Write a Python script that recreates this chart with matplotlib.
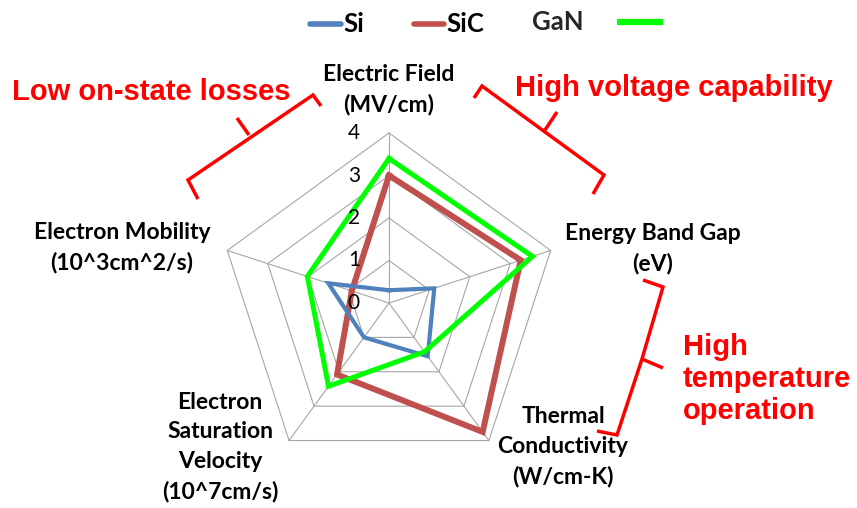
import numpy as np
import matplotlib
matplotlib.use("Agg")
import matplotlib.pyplot as plt

# axes of the radar, clockwise from the top
axis_names = ["Electric Field\n(MV/cm)",
              "Energy Band Gap\n(eV)",
              "Thermal\nConductivity\n(W/cm-K)",
              "Electron\nSaturation\nVelocity\n(10^7cm/s)",
              "Electron Mobility\n(10^3cm^2/s)"]
ring_ticks = [0, 1, 2, 3, 4]

si = [0.3, 1.12, 1.55, 1.0, 1.5]
sic = [3.0, 3.26, 3.75, 2.08, 0.92]
gan = [3.4, 3.55, 1.42, 2.42, 2.02]

c_si = "#4F81BD"
c_sic = "#C0504D"
c_gan = "#00FF00"

W, H = 857, 508
cx, cy, unit = 389, 303, 42.5   # centre in pixels, pixels per unit


def px(x, y):
    # pixel position -> data coords
    return (x - cx) / unit, (cy - y) / unit


angles = np.deg2rad(90 - 72 * np.arange(5))


def xy(vals):
    r = np.asarray(vals, dtype=float)
    a = np.append(angles, angles[0])
    r = np.append(r, r[0])
    return r * np.cos(a), r * np.sin(a)


fig = plt.figure(figsize=(W / 100, H / 100), dpi=100)
ax = fig.add_axes([0, 0, 1, 1])
ax.set_xlim(-cx / unit, (W - cx) / unit)
ax.set_ylim(-(H - cy) / unit, cy / unit)
ax.axis("off")

# grid
for k in ring_ticks[1:]:
    gx, gy = xy([k] * 5)
    ax.plot(gx, gy, color="#A6A6A6", lw=0.8, zorder=1)
for a in angles:
    ax.plot([0, 4 * np.cos(a)], [0, 4 * np.sin(a)], color="#A6A6A6", lw=0.8, zorder=1)

# series
x, y = xy(si)
ax.plot(x, y, color=c_si, lw=3.0, solid_joinstyle="miter", zorder=3)
x, y = xy(sic)
ax.plot(x, y, color=c_sic, lw=4.3, solid_joinstyle="miter", zorder=2)
x, y = xy(gan)
ax.plot(x, y, color=c_gan, lw=3.6, solid_joinstyle="miter", zorder=4)

# ring labels on the top axis
for k in ring_ticks:
    ax.text(-29 / unit, k, str(k), ha="right", va="center",
            fontsize=15, family="Lato", color="black", zorder=5)

# axis titles
lab = dict(ha="center", va="center", fontsize=16.5, family="Lato",
           fontweight="bold", linespacing=1.5)
ax.text(*px(389, 90), axis_names[0], **lab)
ax.text(*px(653, 249), axis_names[1], **lab)
ax.text(*px(563, 447), axis_names[2], **lab)
ax.text(*px(220, 447), axis_names[3], **lab)
ax.text(*px(122, 248), axis_names[4], **lab)

# red brackets + notes
red = dict(color="#FF0000", lw=2.5, solid_capstyle="butt", solid_joinstyle="miter")
br1 = [px(198, 199), px(188, 180), px(313, 95), px(321, 106)]
ax.plot(*zip(*br1), **red)
ax.plot(*zip(px(249, 135), px(237, 118)), **red)

br2 = [px(474, 98), px(482, 86), px(604, 175), px(593, 194)]
ax.plot(*zip(*br2), **red)
ax.plot(*zip(px(545, 130), px(557, 112)), **red)

br3 = [px(643, 280), px(663, 287), px(642, 359), px(617, 435), px(597, 431)]
ax.plot(*zip(*br3), **red)
ax.plot(*zip(px(642, 359), px(663, 368)), **red)

note = dict(color="#FF0000", fontsize=21, family="Liberation Sans",
            fontweight="bold")
ax.text(*px(12, 92), "Low on-state losses", ha="left", va="center", **note)
ax.text(*px(515, 88), "High voltage capability", ha="left", va="center", **note)
ax.text(*px(683, 379), "High\ntemperature\noperation", ha="left", va="center",
        linespacing=1.2, **note)

# legend (drawn by hand, GaN has its swatch after the text)
leg = dict(fontsize=18.5, family="Lato", fontweight="bold", va="center")
ax.plot(*zip(px(310, 24), px(341, 24)), color=c_si, lw=4, solid_capstyle="round")
ax.text(*px(343, 24), "Si", ha="left", **leg)
ax.plot(*zip(px(414, 24), px(444, 24)), color=c_sic, lw=4, solid_capstyle="round")
ax.text(*px(446, 24), "SiC", ha="left", **leg)
ax.text(*px(532, 22), "GaN", ha="left", color="#262626", **leg)
ax.plot(*zip(px(617, 22), px(663, 22)), color=c_gan, lw=4.5, solid_capstyle="butt")

fig.savefig("out.png", dpi=100)
